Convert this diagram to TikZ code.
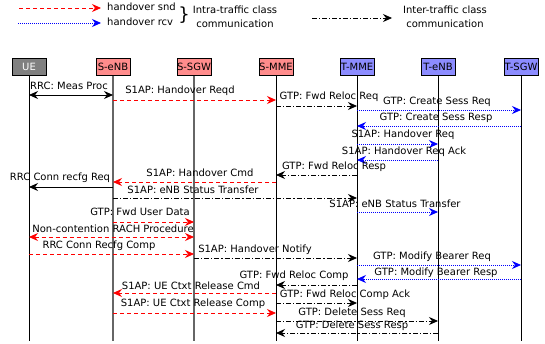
\documentclass[tikz,border=0pt]{standalone}
\usepackage{fontspec}
\setmainfont{DejaVu Sans}
\usetikzlibrary{arrows.meta}
\definecolor{sred}{RGB}{255,140,140}
\definecolor{tblue}{RGB}{140,140,255}
\definecolor{uegray}{RGB}{128,128,128}
\tikzset{
  x=1pt,y=-1pt,
  every node/.style={font=\fontsize{10}{12}\selectfont, inner sep=0pt},
  ent/.style={draw=black, line width=0.9pt, minimum width=34pt, minimum height=17pt, anchor=north},
  sbox/.style={ent, fill=sred},
  tbox/.style={ent, fill=tblue},
  uebox/.style={ent, fill=uegray, text=white},
  life/.style={line width=0.9pt, black},
  lifeg/.style={line width=1.2pt, black!60},
  tip/.style={-{Stealth[length=9pt,width=8pt,inset=3pt]}},
  btip/.style={{Stealth[length=9pt,width=8pt,inset=3pt]}-{Stealth[length=9pt,width=8pt,inset=3pt]}},
  solidmsg/.style={line width=0.8pt, black},
  sndmsg/.style={line width=0.8pt, red, dash pattern=on 4pt off 3pt},
  rcvmsg/.style={line width=0.8pt, blue, dash pattern=on 1pt off 1pt},
  intermsg/.style={line width=0.8pt, black, dash pattern=on 5pt off 2pt on 1.2pt off 2pt},
  lbl/.style={anchor=center},
}
\newcommand{\msgline}[5]{\draw[#4] (#1.south |- 0,#3) -- (#2.south |- 0,#3);}
\begin{document}
\begin{tikzpicture}
\useasboundingbox (0,0) rectangle (545,344);
% legend
\coordinate (la1) at (19,8); \coordinate (la2) at (101,8);
\coordinate (lb1) at (18,23); \coordinate (lb2) at (101,23);
\draw[sndmsg,tip] (la1) -- (la2);
\draw[rcvmsg,tip] (lb1) -- (lb2);
\node[anchor=west] (lsnd) at (107,7) {handover snd};
\node[anchor=west] (lrcv) at (107,22) {handover rcv};
\node (brace) at (184,15) {\fontsize{18}{18}\selectfont\}};
\node (intra1) at (235,9.5) {Intra-traffic class};
\node (intra2) at (235,23.5) {communication};
\coordinate (lc1) at (312,18); \coordinate (lc2) at (392,18);
\draw[intermsg,tip] (lc1) -- (lc2);
\node (inter1) at (445,9.5) {Inter-traffic class};
\node (inter2) at (445,23.5) {communication};
% entities
\node[uebox] (ue) at (29,58) {UE};
\node[sbox] (senb) at (113,58) {S-eNB};
\node[sbox] (ssgw) at (194,58) {S-SGW};
\node[sbox] (smme) at (276,58) {S-MME};
\node[tbox] (tmme) at (357,58) {T-MME};
\node[tbox] (tenb) at (438,58) {T-eNB};
\node[tbox] (tsgw) at (521,58) {T-SGW};
\draw[life] (ue.south) -- (ue.south |- 0,341);
\draw[lifeg] (senb.south) -- (senb.south |- 0,341);
\draw[lifeg] (ssgw.south) -- (ssgw.south |- 0,341);
\draw[life] (smme.south) -- (smme.south |- 0,341);
\draw[life] (tmme.south) -- (tmme.south |- 0,341);
\draw[life] (tenb.south) -- (tenb.south |- 0,341);
\draw[life] (tsgw.south) -- (tsgw.south |- 0,341);
% messages
\msgline{ue}{senb}{95}{solidmsg,btip}{}
\node[lbl] (m1) at (69,86) {RRC: Meas Proc};
\msgline{senb}{smme}{100}{sndmsg,tip}{}
\node[lbl] (m2) at (180,91) {S1AP: Handover Reqd};
\msgline{smme}{tmme}{106}{intermsg,tip}{}
\node[lbl] (m3) at (329,97) {GTP: Fwd Reloc Req};
\msgline{tmme}{tsgw}{110}{rcvmsg,tip}{}
\node[lbl] (m4) at (437,102) {GTP: Create Sess Req};
\msgline{tsgw}{tmme}{126}{rcvmsg,tip}{}
\node[lbl] (m5) at (436,118) {GTP: Create Sess Resp};
\msgline{tmme}{tenb}{144}{rcvmsg,tip}{}
\node[lbl] (m6) at (403,135) {S1AP: Handover Req};
\msgline{tenb}{tmme}{160}{rcvmsg,tip}{}
\node[lbl] (m7) at (404,152) {S1AP: Handover Req Ack};
\msgline{tmme}{smme}{175}{intermsg,tip}{}
\node[lbl] (m8) at (334,167) {GTP: Fwd Reloc Resp};
\msgline{smme}{senb}{182}{sndmsg,tip}{}
\node[lbl] (m9) at (200,173) {S1AP: Handover Cmd};
\msgline{senb}{ue}{187}{solidmsg,tip}{}
\node[lbl] (m10) at (60,178) {RRC Conn recfg Req};
\msgline{senb}{tmme}{198}{intermsg,tip}{}
\node[lbl] (m11) at (193,190) {S1AP: eNB Status Transfer};
\msgline{tmme}{tenb}{212}{rcvmsg,tip}{}
\node[lbl] (m12) at (395,204) {S1AP: eNB Status Transfer};
\msgline{senb}{ssgw}{222}{sndmsg,tip}{}
\node[lbl] (m13) at (140,212) {GTP: Fwd User Data};
\msgline{ue}{ssgw}{237}{sndmsg,btip}{}
\node[lbl] (m14) at (113,229) {Non-contention RACH Procedure};
\msgline{ue}{ssgw}{254}{sndmsg,tip}{}
\node[lbl] (m15) at (99,246) {RRC Conn Recfg Comp};
\msgline{ssgw}{tmme}{258}{intermsg,tip}{}
\node[lbl] (m16) at (255,250) {S1AP: Handover Notify};
\msgline{tmme}{tsgw}{265}{rcvmsg,tip}{}
\node[lbl] (m17) at (432,257) {GTP: Modify Bearer Req};
\msgline{tsgw}{tmme}{279}{rcvmsg,tip}{}
\node[lbl] (m18) at (436,273) {GTP: Modify Bearer Resp};
\msgline{tmme}{smme}{285}{intermsg,tip}{}
\node[lbl] (m19) at (294,276) {GTP: Fwd Reloc Comp};
\msgline{smme}{senb}{293}{sndmsg,tip}{}
\node[lbl] (m20) at (191,286) {S1AP: UE Ctxt Release Cmd};
\msgline{smme}{tmme}{303}{intermsg,tip}{}
\node[lbl] (m21) at (345,295) {GTP: Fwd Reloc Comp Ack};
\msgline{senb}{smme}{313}{sndmsg,tip}{}
\node[lbl] (m22) at (193,304) {S1AP: UE Ctxt Release Comp};
\msgline{smme}{tenb}{321}{intermsg,tip}{}
\node[lbl] (m23) at (352,313) {GTP: Delete Sess Req};
\msgline{tenb}{smme}{333}{intermsg,tip}{}
\node[lbl] (m24) at (352,326) {GTP: Delete Sess Resp};
\end{tikzpicture}
\end{document}
